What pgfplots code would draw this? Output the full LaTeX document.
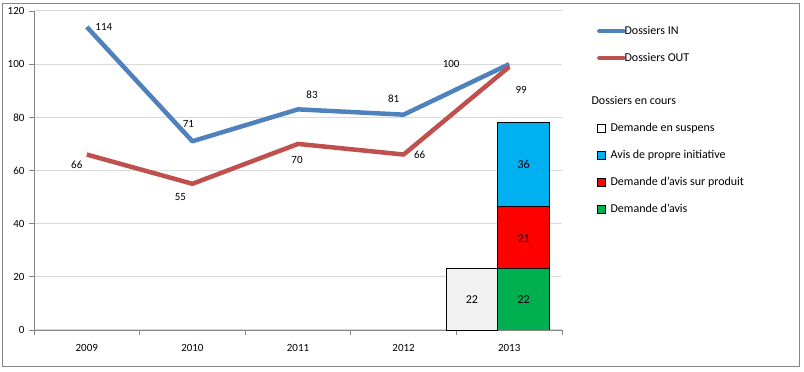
\documentclass[border=0pt]{standalone}
\usepackage{fontspec}
\setmainfont{Carlito}
\usepackage{pgfplots}
\pgfplotsset{compat=1.18}
\definecolor{inblue}{HTML}{4F81BD}
\definecolor{outred}{HTML}{C0504D}
\definecolor{gridgray}{HTML}{D9D9D9}
\definecolor{axgray}{HTML}{868686}
\definecolor{cyanbar}{HTML}{00B0F0}
\definecolor{redbar}{HTML}{FF0000}
\definecolor{greenbar}{HTML}{00B050}
\definecolor{greybar}{HTML}{F2F2F2}
\pgfplotsset{
  common/.style={scale only axis, width=528pt, height=319pt,
    xmin=-0.5, xmax=4.5, ymin=0, ymax=120, at={(0pt,0pt)}, anchor=south west},
  linelegend/.style={legend image code/.code={\draw[##1] (0pt,0pt) -- (24pt,0pt);}},
  squarelegend/.style={legend image code/.code={\draw[##1] (-2pt,-4pt) rectangle (6pt,4pt);}},
}
\begin{document}
\begin{tikzpicture}
\useasboundingbox (-34pt,-42pt) rectangle (770pt,330pt);
\draw[axgray, line width=1pt] (-31pt,-37pt) rectangle (765pt,326pt);
\begin{axis}[common,
  axis x line*=bottom, axis y line*=left,
  axis line style={axgray, line width=0.8pt},
  xtick={0,1,2,3,4}, xticklabels={2009,2010,2011,2012,2013},
  major x tick style={draw=none},
  minor xtick={-0.5,0.5,1.5,2.5,3.5,4.5},
  minor x tick style={axgray, line width=0.8pt},
  ytick={0,20,40,60,80,100,120},
  y tick style={axgray, line width=0.8pt},
  tick align=outside, major tick length=5pt, minor tick length=5pt,
  ymajorgrids, grid style={gridgray, line width=1pt},
  tick label style={font=\fontsize{11}{13}\selectfont},
  /pgf/number format/assume math mode=true,
  xticklabel style={yshift=-6pt},
  yticklabel style={xshift=-1pt},
  legend style={at={(rel axis cs:1.066,0.959)}, anchor=north west, draw=none, fill=none,
    font=\fontsize{12}{14}\selectfont, row sep=13pt, cells={anchor=west}, inner sep=0pt},
  clip=false,
]
\addplot[ybar, bar width=0.49, fill=greybar, draw=black, line width=0.8pt, forget plot]
  coordinates {(3.647,23.1)};
\addplot[inblue, line width=4.5pt, line join=round, forget plot]
  coordinates {(0,114) (1,71) (2,83) (3,81) (4,100)};
\addplot[outred, line width=4.5pt, line join=round, forget plot]
  coordinates {(0,66) (1,55) (2,70) (3,66) (4,99)};
% data labels
\begin{scope}[every node/.style={font=\fontsize{11}{13}\selectfont}]
\node at (axis cs:0,114) [xshift=17pt] {114};
\node at (axis cs:1,71) [xshift=-4pt, yshift=17pt] {71};
\node at (axis cs:2,83) [xshift=14pt, yshift=15pt] {83};
\node at (axis cs:3,81) [xshift=-10pt, yshift=16pt] {81};
\node at (axis cs:4,100) [xshift=-58pt] {100};
\node at (axis cs:0,66) [xshift=-10pt, yshift=-10pt] {66};
\node at (axis cs:1,55) [xshift=-12pt, yshift=-13pt] {55};
\node at (axis cs:2,70) [xshift=-1pt, yshift=-16pt] {70};
\node at (axis cs:3,66) [xshift=16pt] {66};
\node at (axis cs:4,99) [xshift=12pt, yshift=-23pt] {99};
\end{scope}
% legend
\addlegendimage{linelegend, inblue, line width=4.5pt, line cap=round}
\addlegendentry{\hspace*{-3pt}Dossiers IN}
\addlegendimage{linelegend, outred, line width=4.5pt, line cap=round}
\addlegendentry{\hspace*{-3pt}Dossiers OUT}
\addlegendimage{empty legend}
\addlegendentry{\hspace*{-36pt}\rule{0pt}{25pt}Dossiers en cours}
\addlegendimage{squarelegend, fill=white, draw=black, line width=0.6pt}
\addlegendentry{\hspace*{-17pt}Demande en suspens}
\addlegendimage{squarelegend, fill=cyanbar, draw=black, line width=0.6pt}
\addlegendentry{\hspace*{-17pt}Avis de propre initiative}
\addlegendimage{squarelegend, fill=redbar, draw=black, line width=0.6pt}
\addlegendentry{\hspace*{-17pt}Demande d'avis sur produit}
\addlegendimage{squarelegend, fill=greenbar, draw=black, line width=0.6pt}
\addlegendentry{\hspace*{-17pt}Demande d'avis}
\end{axis}
\begin{axis}[common, ybar stacked, bar width=0.49, axis lines=none, ticks=none]
\addplot[fill=greenbar, draw=black, line width=0.8pt] coordinates {(4.137,23.1)};
\addplot[fill=redbar, draw=black, line width=0.8pt] coordinates {(4.137,23.4)};
\addplot[fill=cyanbar, draw=black, line width=0.8pt] coordinates {(4.137,31.6)};
\end{axis}
\begin{axis}[common, axis lines=none, ticks=none]
\begin{scope}[every node/.style={font=\fontsize{12}{14}\selectfont}]
\node at (axis cs:3.647,11.5) {22};
\node at (axis cs:4.137,11.5) {22};
\node at (axis cs:4.137,34.4) {21};
\node at (axis cs:4.137,62.2) {36};
\end{scope}
\end{axis}
\end{tikzpicture}
\end{document}
